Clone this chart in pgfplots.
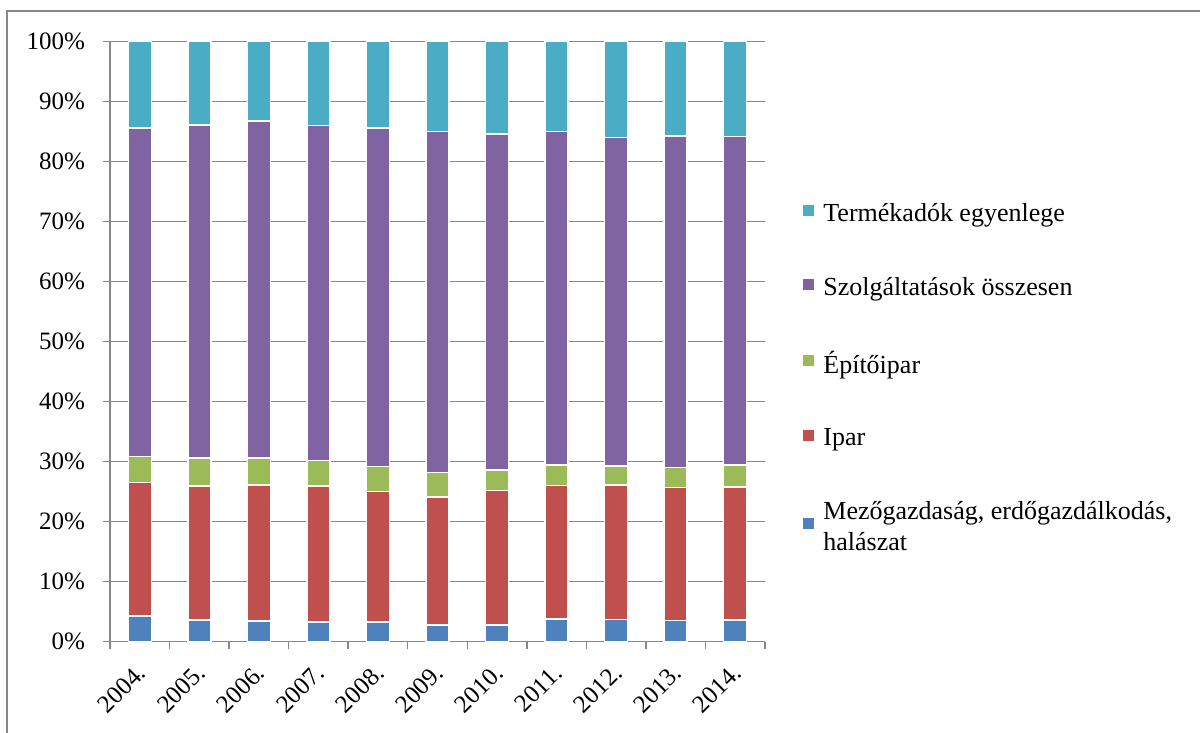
\documentclass[border=0pt]{standalone}
\usepackage{pgfplots}
\pgfplotsset{compat=1.18}
\usepackage{pgfplotstable}
\usepackage{fontspec}
\setmainfont{Liberation Serif}

\definecolor{cAgri}{HTML}{4F81BD}
\definecolor{cInd}{HTML}{C0504D}
\definecolor{cConstr}{HTML}{9BBB59}
\definecolor{cServ}{HTML}{8064A2}
\definecolor{cTax}{HTML}{4BACC6}
\definecolor{cGrid}{HTML}{878787}

% shares of GDP by sector, percent
\pgfplotstableread{
year agri ind constr serv tax
2004 4.3 22.2 4.4 54.7 14.4
2005 3.6 22.35 4.65 55.5 13.9
2006 3.45 22.65 4.5 56.2 13.2
2007 3.3 22.65 4.25 55.8 14.0
2008 3.3 21.7 4.2 56.4 14.4
2009 2.8 21.3 4.1 56.8 15.0
2010 2.8 22.4 3.4 56.0 15.4
2011 3.8 22.2 3.45 55.55 15.0
2012 3.7 22.4 3.2 54.7 16.0
2013 3.5 22.2 3.3 55.3 15.7
2014 3.6 22.2 3.65 54.75 15.8
}\shares

\begin{document}
\begin{tikzpicture}
\begin{axis}[
    at={(0,0)}, anchor=south west,
    scale only axis,
    width=327.5pt, height=300pt,
    ybar stacked,
    bar width=11.5pt,
    xmin=-0.5, xmax=10.5,
    ymin=0, ymax=100,
    axis x line*=bottom,
    axis y line*=left,
    axis line style={cGrid, line width=0.75pt},
    xtick={0,...,10},
    xticklabels={2004.,2005.,2006.,2007.,2008.,2009.,2010.,2011.,2012.,2013.,2014.},
    major x tick style={draw=none},
    minor xtick={-0.5,0.5,...,10.5},
    minor tick length=3.5pt,
    minor x tick style={cGrid, line width=0.75pt},
    ytick={0,10,...,100},
    yticklabels={0\%,10\%,20\%,30\%,40\%,50\%,60\%,70\%,80\%,90\%,100\%},
    major tick length=3.5pt,
    tick align=outside,
    y tick style={cGrid, line width=0.75pt},
    ymajorgrids,
    major grid style={cGrid, line width=0.75pt},
    tick label style={font=\fontsize{12.5}{15}\selectfont},
    yticklabel style={xshift=-5.5pt},
    xticklabel style={rotate=45, anchor=north east, yshift=0pt, xshift=-3pt},
    every axis plot/.append style={draw=white, line width=0.75pt},
    legend cell align=left,
    reverse legend,
    legend style={
        at={(1.058,0.731)}, anchor=north west,
        draw=none, fill=none, inner sep=0pt,
        row sep=26.3pt, column sep=4.5pt,
        font=\fontsize{13}{15.5}\selectfont,
        nodes={inner sep=0pt, align=left},
    },
    legend image code/.code={
        \fill[#1, draw=none] (0pt,-1pt) rectangle (5.5pt,4.5pt);
    },
]
\addplot[fill=cAgri] table[x expr=\coordindex, y=agri]{\shares};
\addlegendentry{Mezőgazdaság, erdőgazdálkodás,\\halászat}
\addplot[fill=cInd] table[x expr=\coordindex, y=ind]{\shares};
\addlegendentry{Ipar}
\addplot[fill=cConstr] table[x expr=\coordindex, y=constr]{\shares};
\addlegendentry{Építőipar}
\addplot[fill=cServ] table[x expr=\coordindex, y=serv]{\shares};
\addlegendentry{Szolgáltatások összesen}
\addplot[fill=cTax] table[x expr=\coordindex, y=tax]{\shares};
\addlegendentry{Termékadók egyenlege}
\end{axis}
% chart area frame (only its left and top edges fall inside the picture)
\draw[cGrid, line width=0.9pt] (-51.5pt,-60pt) -- (-51.5pt,315.4pt) -- (560pt,315.4pt);
\pgfresetboundingbox
\useasboundingbox (-55pt,-45.65pt) rectangle (545pt,320.85pt);
\end{tikzpicture}
\end{document}
